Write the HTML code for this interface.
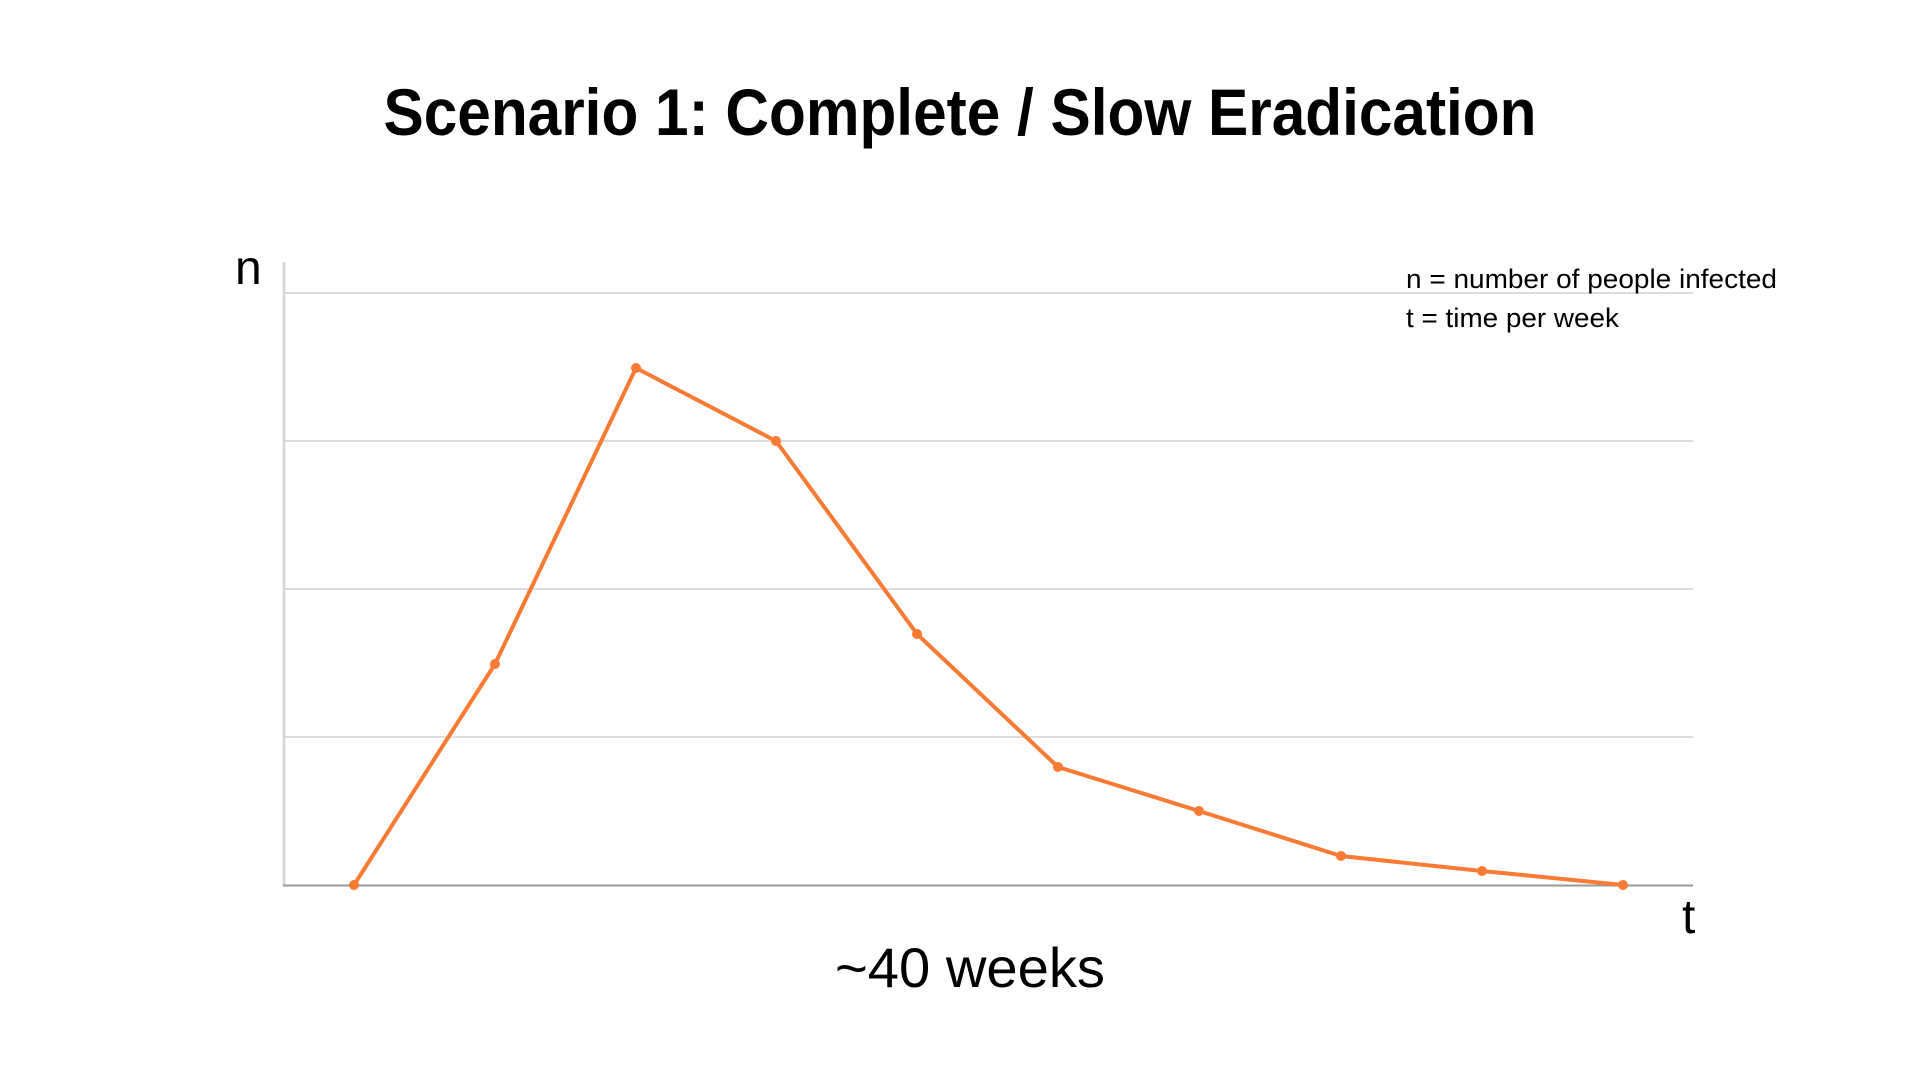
<!DOCTYPE html>
<html><head><meta charset="utf-8"><style>html,body{margin:0;padding:0;background:#fff;width:1920px;height:1080px;overflow:hidden}</style></head>
<body>
<svg width="1920" height="1080" xmlns="http://www.w3.org/2000/svg" font-family="Liberation Sans, Arial, sans-serif">
<text x="960" y="135" text-anchor="middle" font-size="66" font-weight="bold" fill="#000" textLength="1153" lengthAdjust="spacingAndGlyphs">Scenario 1: Complete / Slow Eradication</text>
<g stroke="#dddddd" stroke-width="2">
<line x1="283" y1="293" x2="1693" y2="293"/>
<line x1="283" y1="441" x2="1693" y2="441"/>
<line x1="283" y1="589" x2="1693" y2="589"/>
<line x1="283" y1="737" x2="1693" y2="737"/>
</g>
<line x1="284" y1="262" x2="284" y2="886" stroke="#d8d8d8" stroke-width="3"/>
<line x1="283" y1="885.5" x2="1693" y2="885.5" stroke="#999" stroke-width="2"/>
<polyline fill="none" stroke="#f97a33" stroke-width="4" stroke-linejoin="round" points="354,885 495,664 636,368 776,441 917,634 1058,767 1199,811 1341,856 1482,871 1623,885"/>
<g fill="#f97a33">
<circle cx="354" cy="885" r="5"/><circle cx="495" cy="664" r="5"/><circle cx="636" cy="368" r="5"/><circle cx="776" cy="441" r="5"/><circle cx="917" cy="634" r="5"/><circle cx="1058" cy="767" r="5"/><circle cx="1199" cy="811" r="5"/><circle cx="1341" cy="856" r="5"/><circle cx="1482" cy="871" r="5"/><circle cx="1623" cy="885" r="5"/>
</g>
<text x="235" y="284" font-size="48" fill="#000">n</text>
<text x="1682" y="933" font-size="48" fill="#000">t</text>
<text x="970" y="987" text-anchor="middle" font-size="56" fill="#000" textLength="270" lengthAdjust="spacingAndGlyphs">~40 weeks</text>
<text x="1406" y="288" font-size="27" fill="#000" textLength="371" lengthAdjust="spacingAndGlyphs">n = number of people infected</text>
<text x="1406" y="327" font-size="27" fill="#000" textLength="213" lengthAdjust="spacingAndGlyphs">t = time per week</text>
</svg>
</body></html>
